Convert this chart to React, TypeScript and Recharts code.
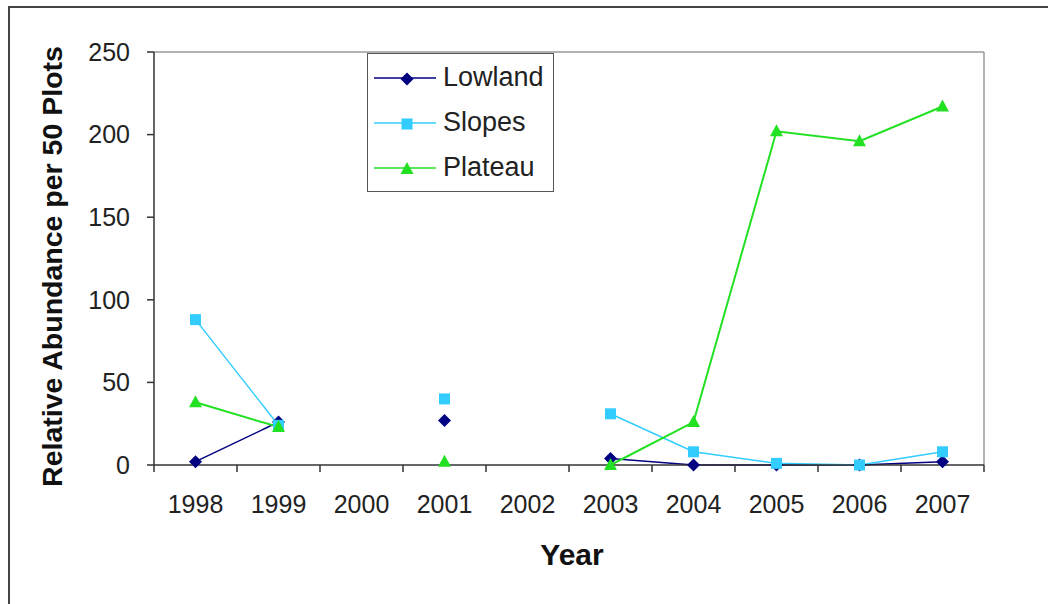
import { LineChart, Line, XAxis, YAxis, ReferenceLine } from 'recharts'

const years = ['1998', '1999', '2000', '2001', '2002', '2003', '2004', '2005', '2006', '2007']
const lowland = [2, 26, null, 27, null, 4, 0, 0, 0, 2]
const slopes = [88, 24, null, 40, null, 31, 8, 1, 0, 8]
const plateau = [38, 23, null, 2, null, 0, 26, 202, 196, 217]
const yTicks = [0, 50, 100, 150, 200, 250]

const data = years.map((year, i) => ({
  idx: i,
  year,
  lowland: lowland[i],
  slopes: slopes[i],
  plateau: plateau[i],
}))

// ticks every half step: integers carry the year label, halves carry the tick mark
const xTicks = Array.from({ length: 21 }, (_, i) => i / 2 - 0.5)

const FONT = '"Liberation Sans", Arial, sans-serif'
const NAVY = '#000080'
const CYAN = '#33ccff'
const GREEN = '#22e022'

const Diamond = (props: any) => {
  const { cx, cy } = props
  if (cx == null || cy == null || props.value == null) return null
  const r = 6.5
  return <path d={`M${cx},${cy - r}L${cx + r},${cy}L${cx},${cy + r}L${cx - r},${cy}Z`} fill={NAVY} />
}

const Square = (props: any) => {
  const { cx, cy } = props
  if (cx == null || cy == null || props.value == null) return null
  return <rect x={cx - 5.5} y={cy - 5.5} width={11} height={11} fill={CYAN} />
}

const Triangle = (props: any) => {
  const { cx, cy } = props
  if (cx == null || cy == null || props.value == null) return null
  return <path d={`M${cx},${cy - 7}L${cx + 6.5},${cy + 5}L${cx - 6.5},${cy + 5}Z`} fill={GREEN} />
}

const XTick = (props: any) => {
  const { x, y, payload } = props
  const v = payload.value
  if (Number.isInteger(v)) {
    return (
      <text x={x} y={y + 48} textAnchor="middle" fontFamily={FONT} fontSize={25} fill="#222">
        {years[v]}
      </text>
    )
  }
  return <line x1={x} x2={x} y1={y} y2={y + 7} stroke="#333" strokeWidth={1.5} />
}

const legendItems = [
  { name: 'Lowland', color: NAVY, Icon: Diamond },
  { name: 'Slopes', color: CYAN, Icon: Square },
  { name: 'Plateau', color: GREEN, Icon: Triangle },
]

const LegendBox = () => (
  <div
    style={{
      position: 'absolute',
      left: 357,
      top: 45,
      width: 187,
      height: 139,
      border: '1.5px solid #555',
      boxSizing: 'border-box',
      background: '#fff',
    }}
  >
    {legendItems.map((it, i) => (
      <div key={it.name} style={{ display: 'flex', alignItems: 'center', height: 45, marginTop: i === 0 ? 1 : 0 }}>
        <svg width={75} height={24} style={{ flex: 'none' }}>
          <line x1={6} x2={68} y1={12} y2={12} stroke={it.color} strokeWidth={1.5} />
          <it.Icon cx={39} cy={13} value={1} />
        </svg>
        <span style={{ fontFamily: FONT, fontSize: 27, color: '#222', lineHeight: 1 }}>{it.name}</span>
      </div>
    ))}
  </div>
)

export default function App() {
  return (
    <div
      style={{
        position: 'fixed',
        left: 8,
        top: 6,
        width: 1040,
        height: 596,
        borderTop: '2px solid #444',
        borderLeft: '2px solid #444',
        borderBottom: '1px solid #ddd',
        background: '#fff',
      }}
    >
      <LineChart width={1030} height={590} data={data} margin={{ top: 44, right: 56, bottom: 43, left: 0 }}>
        <XAxis
          dataKey="idx"
          type="number"
          domain={[-0.5, 9.5]}
          ticks={xTicks}
          interval={0}
          tickLine={false}
          tickSize={0}
          tickMargin={0}
          tick={<XTick />}
          height={90}
          axisLine={{ stroke: '#333', strokeWidth: 1.5 }}
          label={{
            content: (p: any) => (
              <text
                x={p.viewBox.x + p.viewBox.width / 2 + 3}
                y={p.viewBox.y + 100}
                textAnchor="middle"
                fontFamily={FONT}
                fontWeight="bold"
                fontSize={30}
                fill="#111"
              >
                Year
              </text>
            ),
          }}
        />
        <YAxis
          domain={[0, 250]}
          ticks={yTicks}
          interval={0}
          width={144}
          tickSize={7}
          tickMargin={17}
          tickLine={{ stroke: '#333', strokeWidth: 1.5 }}
          axisLine={{ stroke: '#333', strokeWidth: 1.5 }}
          tick={{ fontFamily: FONT, fontSize: 25, fill: '#222' }}
          label={{
            content: (p: any) => {
              const cx = p.viewBox.x + 42
              const cy = p.viewBox.y + p.viewBox.height / 2 + 8
              return (
                <text
                  x={cx}
                  y={cy}
                  transform={`rotate(-90 ${cx} ${cy})`}
                  textAnchor="middle"
                  dominantBaseline="central"
                  fontFamily={FONT}
                  fontWeight="bold"
                  fontSize={28.5}
                  fill="#111"
                >
                  Relative Abundance per 50 Plots
                </text>
              )
            },
          }}
        />
        <ReferenceLine y={250} stroke="#999" strokeWidth={1.5} />
        <ReferenceLine x={9.5} stroke="#999" strokeWidth={1.5} />
        <Line dataKey="lowland" stroke={NAVY} strokeWidth={1.5} dot={<Diamond />} isAnimationActive={false} />
        <Line dataKey="slopes" stroke={CYAN} strokeWidth={1.5} dot={<Square />} isAnimationActive={false} />
        <Line dataKey="plateau" stroke={GREEN} strokeWidth={2} dot={<Triangle />} isAnimationActive={false} />
      </LineChart>
      <LegendBox />
    </div>
  )
}
